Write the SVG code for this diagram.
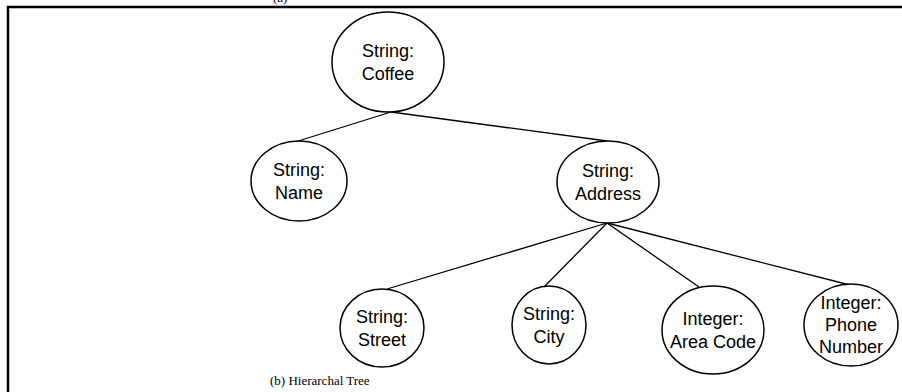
<svg xmlns="http://www.w3.org/2000/svg" width="902" height="392" viewBox="0 0 902 392">
<style>
.node ellipse{fill:#fff;stroke:#000;stroke-width:1.5}
.node text{font-family:"Liberation Sans",Arial,sans-serif;font-size:18px;text-anchor:middle;fill:#000}
.edges line{stroke:#000;stroke-width:1.3}
.cap{font-family:"Liberation Serif","Times New Roman",serif;font-size:13px;fill:#000}
</style>
<rect x="0" y="0" width="902" height="392" fill="#fff"/>
<text class="cap" x="273" y="2">(a)</text>
<path d="M8 400 V7 H910" fill="none" stroke="#000" stroke-width="2.5"/>
<g class="edges">
<line x1="391" y1="112" x2="295" y2="142"/>
<line x1="391" y1="112" x2="607" y2="141"/>
<line x1="607" y1="223" x2="387" y2="289"/>
<line x1="607" y1="223" x2="544" y2="287"/>
<line x1="607" y1="223" x2="699" y2="287"/>
<line x1="607" y1="223" x2="850" y2="285"/>
</g>
<g id="coffee" class="node"><ellipse cx="388" cy="62" rx="56" ry="50"/><text x="388" y="57">String:</text><text x="388" y="80">Coffee</text></g>
<g id="name" class="node"><ellipse cx="299" cy="181" rx="48" ry="40"/><text x="299" y="176">String:</text><text x="299" y="199">Name</text></g>
<g id="address" class="node"><ellipse cx="608" cy="182" rx="51" ry="41"/><text x="608" y="177">String:</text><text x="608" y="200">Address</text></g>
<g id="street" class="node"><ellipse cx="382" cy="328" rx="42" ry="39"/><text x="382" y="323">String:</text><text x="382" y="346">Street</text></g>
<g id="city" class="node"><ellipse cx="549" cy="325" rx="37" ry="39"/><text x="549" y="320">String:</text><text x="549" y="343">City</text></g>
<g id="areacode" class="node"><ellipse cx="713" cy="330" rx="51" ry="44"/><text x="713" y="325">Integer:</text><text x="713" y="348">Area Code</text></g>
<g id="phone" class="node"><ellipse cx="851" cy="325" rx="47" ry="41"/><text x="851" y="309">Integer:</text><text x="851" y="331">Phone</text><text x="851" y="353">Number</text></g>
<text class="cap" x="270" y="385">(b) Hierarchal Tree</text>
</svg>
